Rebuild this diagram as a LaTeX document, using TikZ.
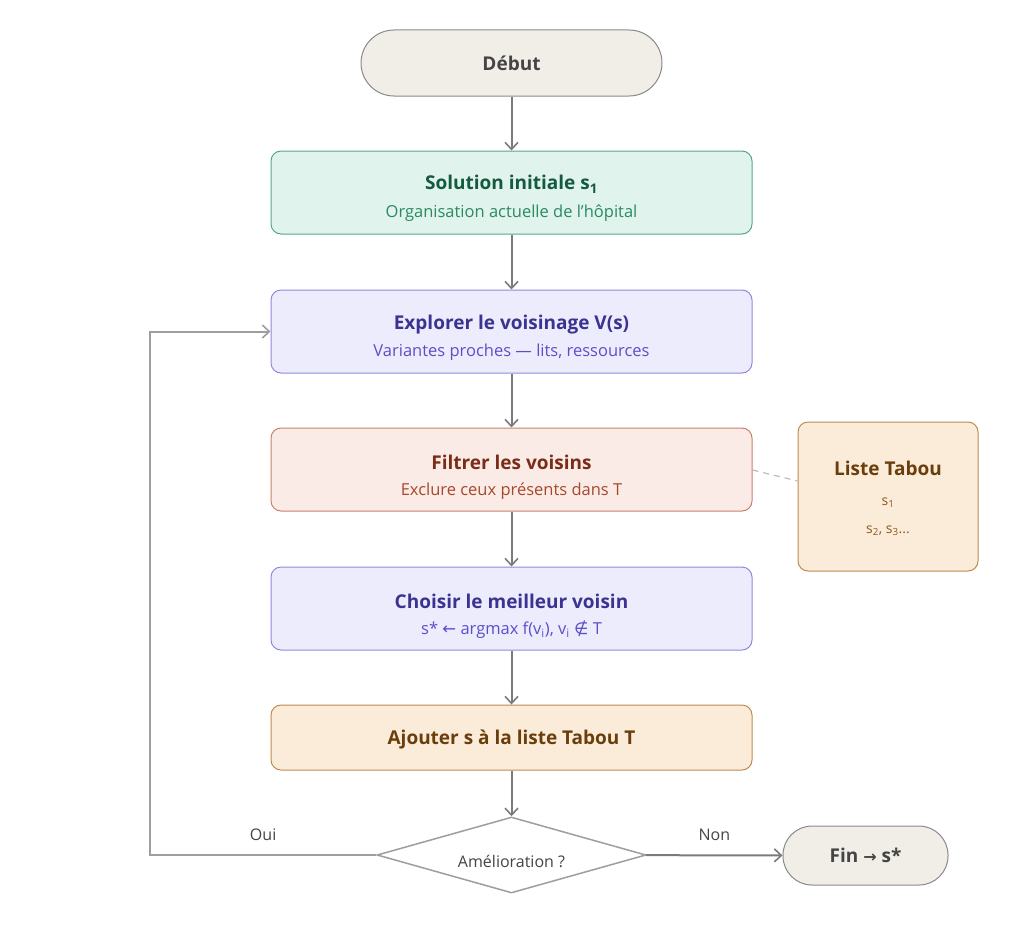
\documentclass[tikz,border=0pt]{standalone}
\usepackage{fontspec}
\setmainfont{Open Sans}
\newfontfamily\symfont{DejaVu Sans}
\usepackage{xcolor}
\usetikzlibrary{arrows.meta,positioning,shapes.geometric,calc}
\definecolor{FlowLine}{HTML}{7B7B7B}
\definecolor{FlowLoop}{HTML}{9E9E9E}
\definecolor{FlowText}{HTML}{444444}
\definecolor{TermFill}{HTML}{F1EEE8}
\definecolor{TermDraw}{HTML}{8A8A8A}
\definecolor{InitFill}{HTML}{E0F3EC}
\definecolor{InitDraw}{HTML}{55A886}
\definecolor{InitDark}{HTML}{145A40}
\definecolor{InitText}{HTML}{2A8A63}
\definecolor{NbFill}{HTML}{EDECFC}
\definecolor{NbDraw}{HTML}{8F88DE}
\definecolor{NbDark}{HTML}{3B3391}
\definecolor{NbText}{HTML}{5A4FCB}
\definecolor{FiltFill}{HTML}{FAEBE6}
\definecolor{FiltDraw}{HTML}{C98069}
\definecolor{FiltDark}{HTML}{7A2C16}
\definecolor{FiltText}{HTML}{A7482B}
\definecolor{TabFill}{HTML}{FBECD9}
\definecolor{TabDraw}{HTML}{BD8B4F}
\definecolor{TabDark}{HTML}{6A3E0C}
\definecolor{TabText}{HTML}{8A5A1E}

\begin{document}
\begin{tikzpicture}[x=1pt,y=-1pt,
  flow/.style={draw=FlowLine,line width=2pt,-{Straight Barb[length=7pt,width=13pt,line width=1.6pt]}},
  loopflow/.style={draw=FlowLoop,line width=2pt,-{Straight Barb[length=7pt,width=13pt,line width=1.6pt]}},
  stepbox/.style={rounded corners=10pt,minimum width=481pt,minimum height=83pt,line width=1pt,inner sep=0pt},
  terminal/.style={rounded corners=33pt,fill=TermFill,draw=TermDraw,line width=1pt,
    minimum height=66pt,font=\fontsize{19}{23}\selectfont\bfseries,text=FlowText},
  ttl/.style={font=\fontsize{19}{23}\selectfont\bfseries,inner sep=0pt},
  sub/.style={font=\fontsize{16.5}{20}\selectfont,inner sep=0pt},
  lbl/.style={font=\fontsize{16}{19}\selectfont,text=FlowText}]
\useasboundingbox (0,0) rectangle (1024,934);

% terminals
\node[terminal,minimum width=301pt] (start) at (511.5,63) {Début};
\node[terminal,minimum width=165pt,minimum height=59pt,rounded corners=29pt] (stop) at (865.5,855.5)
  {Fin {\symfont\fontsize{16}{19}\selectfont →} s*};

% main steps
\node[stepbox,fill=InitFill,draw=InitDraw] (init) at (511.5,192.5) {};
\node[ttl,text=InitDark] (initT) at ([yshift=8pt]init.center) {Solution initiale s\textsubscript{1}};
\node[sub,text=InitText] (initS) at ([yshift=-21pt]init.center) {Organisation actuelle de l'hôpital};

\node[stepbox,fill=NbFill,draw=NbDraw] (explore) at (511.5,331.5) {};
\node[ttl,text=NbDark] (exploreT) at ([yshift=7pt]explore.center) {Explorer le voisinage V(s)};
\node[sub,text=NbText] (exploreS) at ([yshift=-21pt]explore.center) {Variantes proches — lits, ressources};

\node[stepbox,fill=FiltFill,draw=FiltDraw] (filter) at (511.5,469.5) {};
\node[ttl,text=FiltDark] (filterT) at ([yshift=7pt]filter.center) {Filtrer les voisins};
\node[sub,text=FiltText] (filterS) at ([yshift=-22pt]filter.center) {Exclure ceux présents dans T};

\node[stepbox,fill=NbFill,draw=NbDraw] (choose) at (511.5,608.5) {};
\node[ttl,text=NbDark] (chooseT) at ([yshift=7pt]choose.center) {Choisir le meilleur voisin};
\node[sub,text=NbText] (chooseS) at ([yshift=-21pt]choose.center)
  {s* {\symfont ←} argmax f(v\textsubscript{i}), v\textsubscript{i} {\symfont ∉} T};

\node[stepbox,fill=TabFill,draw=TabDraw,minimum height=65pt] (add) at (511.5,737.5) {};
\node[ttl,text=TabDark] (addT) at ([yshift=-2pt]add.center) {Ajouter s à la liste Tabou T};

% decision
\node[diamond,draw=FlowLoop,line width=1.5pt,fill=white,minimum width=269pt,minimum height=76pt,
  aspect=3.54,inner sep=0pt,font=\fontsize{16}{19}\selectfont,text=FlowText] (test) at (511.5,855) {};
\node[lbl,inner sep=0pt] (testT) at ([yshift=-6pt]test.center) {Amélioration ?};

% tabu list
\node[rounded corners=10pt,fill=TabFill,draw=TabDraw,line width=1pt,minimum width=180pt,
  minimum height=149pt] (tabu) at (888,496.5) {};
\node[ttl,text=TabDark] (tabuT) at ([yshift=28pt]tabu.center) {Liste Tabou};
\node[font=\fontsize{14}{17}\selectfont,text=TabText,inner sep=0pt] (tabuA) at ([yshift=-6pt]tabu.center) {s\textsubscript{1}};
\node[font=\fontsize{14}{17}\selectfont,text=TabText,inner sep=0pt] (tabuB) at ([yshift=-34pt]tabu.center) {s\textsubscript{2}, s\textsubscript{3}...};

% connectors
\draw[flow] (start) -- (init);
\draw[flow] (init) -- (explore);
\draw[flow] (explore) -- (filter);
\draw[flow] (filter) -- (choose);
\draw[flow] (choose) -- (add);
\draw[flow] (add) -- (test);
\draw[flow] (test) -- node[lbl,above=10pt] {Non} (stop);
\coordinate (back) at (150,855);
\draw[loopflow] (test.west) -- node[lbl,above=10pt] {Oui} (back) |- (explore.west);
\draw[draw=FlowLoop!70,line width=1.2pt,dash pattern=on 6pt off 5pt] (filter.east |- 0,470) -- (tabu.west |- 0,481);
\end{tikzpicture}
\end{document}
